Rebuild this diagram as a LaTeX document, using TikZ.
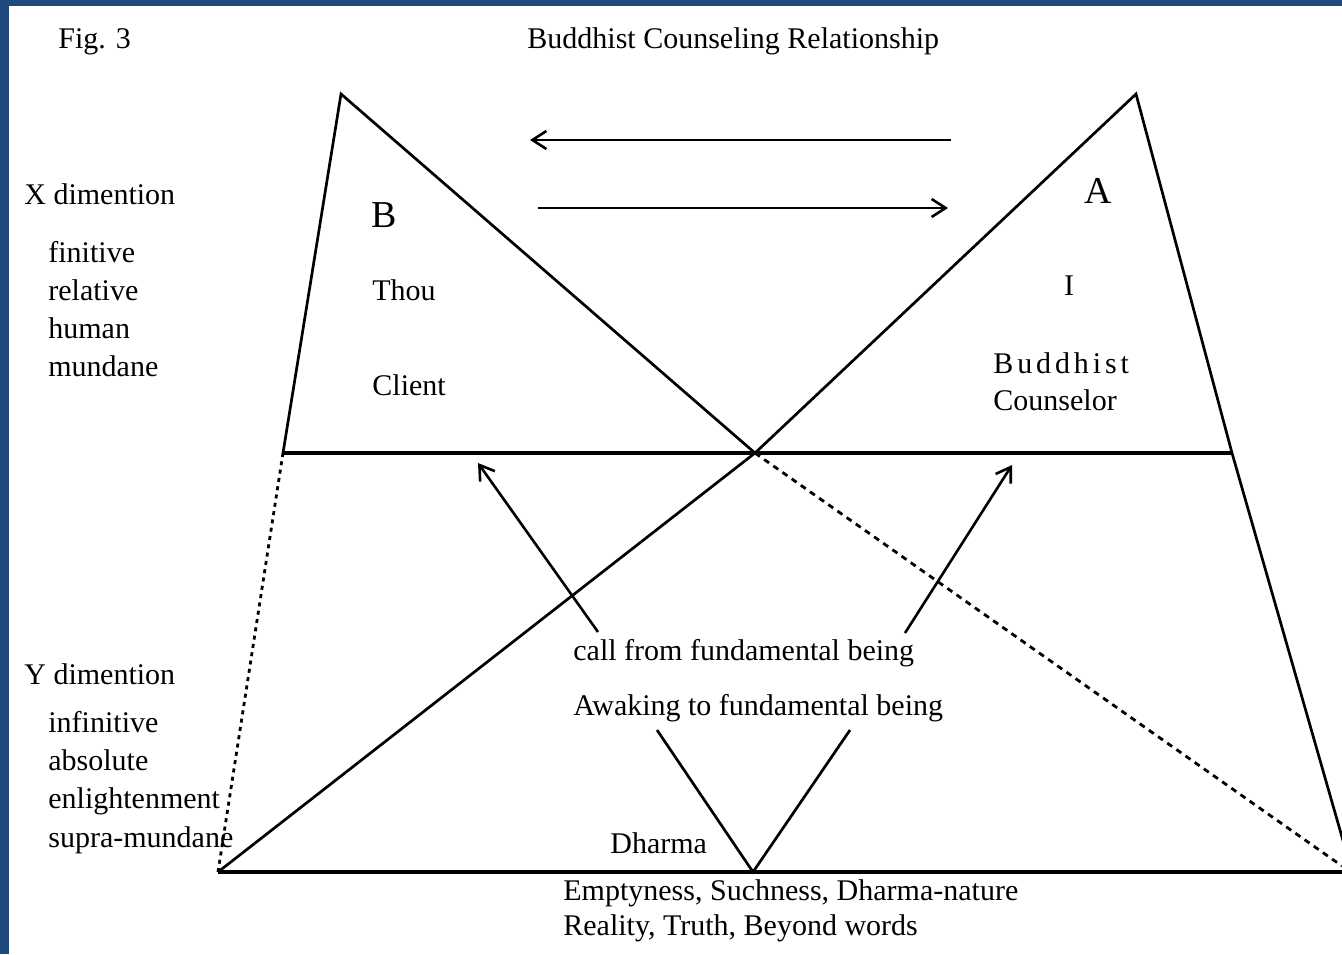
\documentclass[tikz,border=0pt]{standalone}
\usepackage{fontspec}
\setmainfont{Liberation Serif}
\usetikzlibrary{arrows.meta}
\definecolor{frameblue}{RGB}{31,73,125}
\begin{document}
\begin{tikzpicture}[x=0.5pt,y=-0.5pt,
  txt/.style={anchor=base west,inner sep=0pt,font=\fontsize{15pt}{18pt}\selectfont},
  big/.style={anchor=base west,inner sep=0pt,font=\fontsize{19pt}{22pt}\selectfont},
  edge/.style={line width=1.35pt},
  hline/.style={line width=1.6pt},
  arr/.style={line width=1.3pt,-{Straight Barb[length=7pt,width=9pt,line width=1.3pt]}},
  dotline/.style={line width=1.4pt,dash pattern=on 2pt off 2.2pt},
  dashline/.style={line width=1.4pt,dash pattern=on 3pt off 2.6pt}]
\useasboundingbox (0,0) rectangle (1342,954);
\fill[white] (0,0) rectangle (1342,954);
\fill[frameblue] (0,0) rectangle (1342,6);
\fill[frameblue] (0,0) rectangle (9,954);
% vertices
\coordinate (Bt) at (341,94);
\coordinate (Bl) at (283,453);
\coordinate (X) at (755,453);
\coordinate (At) at (1136,94);
\coordinate (Ar) at (1232,453);
\coordinate (Aend) at (1346,851);
\coordinate (BL) at (218,872);
\coordinate (BR) at (1342,872);
\coordinate (Dend) at (1342,866);
\coordinate (V) at (753,872);
\coordinate (Vl) at (657,730);
\coordinate (Vr) at (850,730);
% triangles
\draw[edge] (Bl) -- (Bt) -- (X);
\draw[edge] (BL) -- (X) -- (At) -- (Ar) -- (Aend);
\draw[hline] (Bl) -- (Ar);
\draw[hline] (BL) -- (BR);
\draw[dotline] (Bl) -- (BL);
\draw[dashline] (X) -- (Dend);
% V
\draw[edge] (Vl) -- (V) -- (Vr);
% arrows
\coordinate (t1s) at (951,140);
\coordinate (t1e) at (530,140);
\coordinate (t2s) at (538,208);
\coordinate (t2e) at (948,208);
\draw[arr] (t1s) -- (t1e);
\draw[arr] (t2s) -- (t2e);
\coordinate (d1s) at (598,632);
\coordinate (d1e) at (478,463);
\coordinate (d2s) at (905,633);
\coordinate (d2e) at (1012,465);
\draw[arr] (d1s) -- (d1e);
\draw[arr] (d2s) -- (d2e);
% texts
\node[txt] (fig) at (58,48) {Fig. 3};
\node[txt] (title) at (527,48) {Buddhist Counseling Relationship};
\node[txt] (xd) at (24,204) {X dimention};
\node[txt] (x1) at (48,262) {finitive};
\node[txt] (x2) at (48,300) {relative};
\node[txt] (x3) at (48,338) {human};
\node[txt] (x4) at (48,376) {mundane};
\node[txt] (yd) at (24,684) {Y dimention};
\node[txt] (y1) at (48,732) {infinitive};
\node[txt] (y2) at (48,770) {absolute};
\node[txt] (y3) at (48,808) {enlightenment};
\node[txt] (y4) at (48,847) {supra-mundane};
\node[big] (B) at (371,227) {B};
\node[txt] (thou) at (372,300) {Thou};
\node[txt] (client) at (372,395) {Client};
\node[big] (A) at (1084,203) {A};
\node[txt,anchor=base] (I) at (1069,295) {I};
\node[txt] (bud) at (993,373) {\addfontfeature{LetterSpace=13}Buddhist};
\node[txt] (couns) at (993,410) {Counselor};
\node[txt] (call) at (573,660) {call from fundamental being};
\node[txt] (awak) at (573,715) {Awaking to fundamental being};
\node[txt] (dharma) at (610,853) {Dharma};
\node[txt] (empt) at (563,900) {Emptyness, Suchness, Dharma-nature};
\node[txt] (real) at (563,935) {Reality, Truth, Beyond words};
\end{tikzpicture}
\end{document}
